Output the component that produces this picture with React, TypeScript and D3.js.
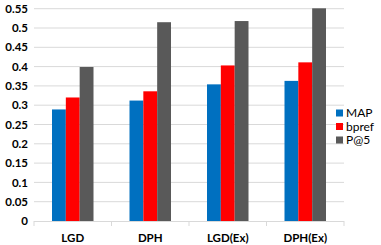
import React from "react";
import * as d3 from "d3";

const categories = ["LGD", "DPH", "LGD(Ex)", "DPH(Ex)"];
const seriesNames = ["MAP", "bpref", "P@5"];
const mapValues = [0.289, 0.312, 0.354, 0.363];
const bprefValues = [0.32, 0.336, 0.403, 0.411];
const p5Values = [0.399, 0.515, 0.518, 0.551];
const colors = ["#0070C0", "#FF0000", "#595959"];
const yTicks = [0, 0.05, 0.1, 0.15, 0.2, 0.25, 0.3, 0.35, 0.4, 0.45, 0.5, 0.55];

export default function App() {
  const W = 381, H = 245;
  const left = 34, right = 344, top = 8.7, bottom = 221;
  const x = d3.scaleBand<string>().domain(categories).range([left, right]).paddingInner(0).paddingOuter(0);
  const y = d3.scaleLinear().domain([0, 0.55]).range([bottom, top]);
  const inner = d3.scaleBand<string>().domain(seriesNames).range([0, 41.5]);
  const groupOffset = (x.bandwidth() - 41.5) / 2;
  const all = [mapValues, bprefValues, p5Values];
  const font = "Lato, 'Open Sans', sans-serif";
  return (
    <svg width={W} height={H} style={{ position: "absolute", left: 0, top: 0, background: "#fff" }} fontFamily={font}>
      {yTicks.map((t) => (
        <g key={t}>
          {t > 0 && <line x1={left} x2={right} y1={y(t)} y2={y(t)} stroke="#D9D9D9" strokeWidth={1} />}
          <text x={28} y={y(t)} dy="0.36em" textAnchor="end" fontSize={11.5} fontWeight="bold" fill="#000">{String(t)}</text>
        </g>
      ))}
      {categories.map((c, i) => (
        <g key={c}>
          {all.map((vals, s) => (
            <rect key={s} x={(x(c) as number) + groupOffset + (inner(seriesNames[s]) as number)} y={y(vals[i])} width={inner.bandwidth()} height={bottom - y(vals[i])} fill={colors[s]} />
          ))}
          <text x={(x(c) as number) + x.bandwidth() / 2} y={242} textAnchor="middle" fontSize={11.5} fontWeight="bold" fill="#000">{c}</text>
        </g>
      ))}
      <line x1={left} x2={right} y1={bottom + 0.5} y2={bottom + 0.5} stroke="#D9D9D9" />
      {[...categories.map((c) => x(c) as number), right].map((v, i) => (
        <line key={i} x1={v} x2={v} y1={bottom} y2={bottom + 5} stroke="#D9D9D9" />
      ))}
      {seriesNames.map((s, i) => (
        <g key={s}>
          <rect x={336} y={109.5 + i * 13.5} width={7} height={7} fill={colors[i]} />
          <text x={346} y={113 + i * 13.5} dy="0.36em" fontSize={12} fill="#000">{s}</text>
        </g>
      ))}
    </svg>
  );
}
